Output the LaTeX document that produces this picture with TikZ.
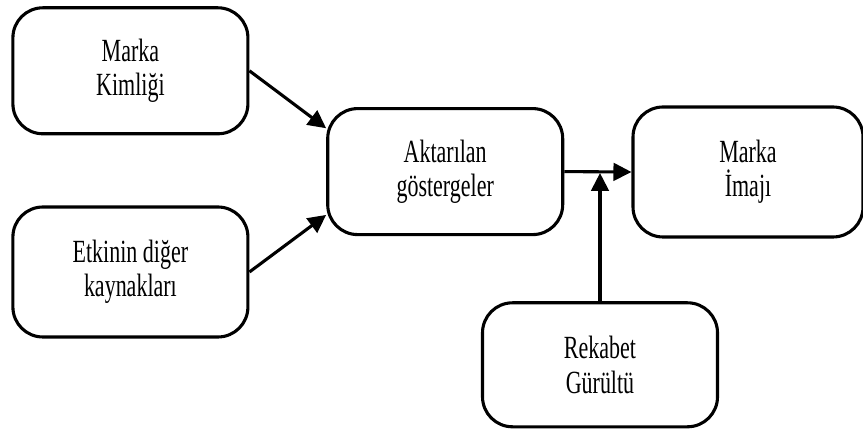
\documentclass[tikz,border=0pt]{standalone}
\usepackage{fontspec}
\setmainfont{Liberation Serif}[FakeStretch=0.68]
\usetikzlibrary{arrows.meta}

\tikzset{
  kutu/.style={draw, line width=2.2pt, rounded corners=0.75cm, minimum width=5.875cm, minimum height=3.15cm, align=center, font=\fontsize{23}{24.5}\selectfont},
  ok/.style={-{Triangle[length=0.45cm,width=0.44cm]}, line width=2.2pt}
}

\begin{document}
\begin{tikzpicture}
  \useasboundingbox (0,0) rectangle (21.575,10.75);
  % Kutular
  \node[kutu] (kimlik) at (3.26,8.98) {Marka\\Kimliği};
  \node[kutu, minimum height=3.25cm] (kaynak) at (3.26,3.95) {Etkinin diğer\\kaynakları};
  \node[kutu] (gosterge) at (11.13,6.46) {Aktarılan\\göstergeler};
  \node[kutu, minimum width=5.75cm, minimum height=3.25cm] (imaj) at (18.7,6.45) {Marka\\İmajı};
  \node[kutu, minimum height=3.1cm] (rekabet) at (15.0,1.63) {Rekabet\\Gürültü};
  % Oklar
  \draw[ok] (kimlik.east) -- (gosterge.160);
  \draw[ok] (kaynak.east) -- (gosterge.200);
  \draw[ok] (gosterge.east) -- (imaj.west);
  \draw[ok, shorten >=1pt] (rekabet.north) -- (rekabet.north |- gosterge.east);
\end{tikzpicture}
\end{document}
